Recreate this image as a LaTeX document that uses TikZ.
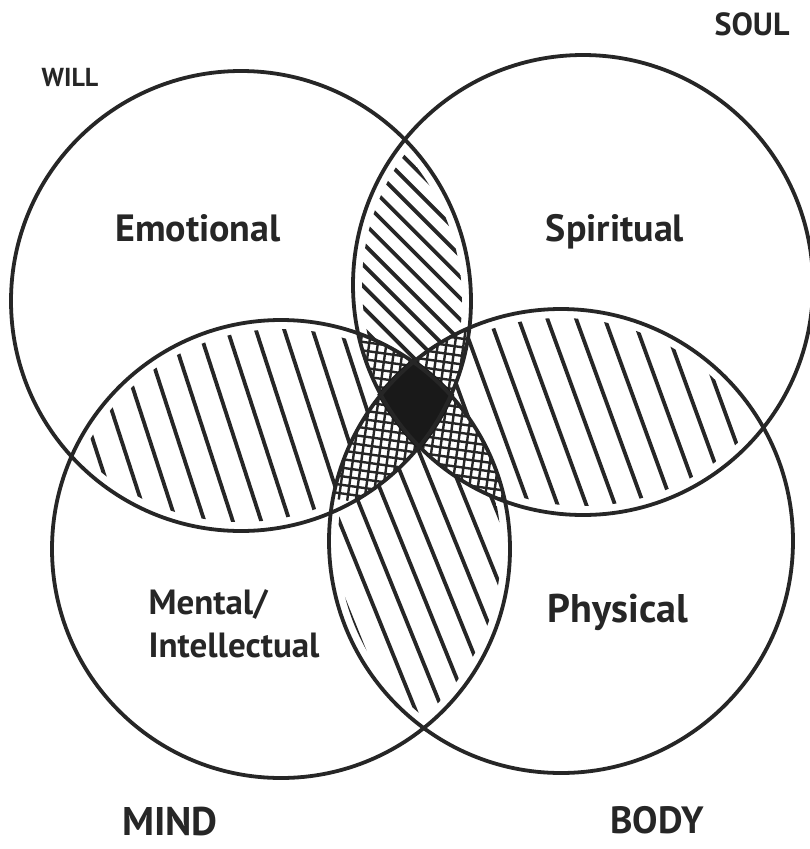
\documentclass[tikz,border=0pt]{standalone}
\usepackage{fontspec}
\setmainfont{PT Sans}
\begin{document}
\begin{tikzpicture}[x=1pt,y=-1pt,
  ring/.style={draw=black!85,line width=3.8pt},
  hatchline/.style={draw=black!85,line width=3.8pt,line cap=round},
  xline/.style={draw=black!85,line width=2.4pt},
  lbl/.style={text=black!85,inner sep=0pt}]
\useasboundingbox[fill=white] (0,0) rectangle (810,849);
% circle centres and radii
\def\Ax{241}\def\Ay{301}\def\Ar{230}
\def\Bx{583}\def\By{285}\def\Br{230}
\def\Cx{281}\def\Cy{549}\def\Cr{229}
\def\Dx{561}\def\Dy{541}\def\Dr{232}
% hatch macro: shift x, shift y, rotation, spacing
\newcommand\myhatch[4]{%
  \begin{scope}[shift={(#1,#2)},rotate=#3]
    \foreach \i in {-20,...,20}{\draw[hatchline] (\i*#4,-260) -- (\i*#4,260);}
  \end{scope}}
\newcommand\mycross[2]{%
  \begin{scope}[shift={(#1,#2)}]
    \foreach \i in {-11,...,11}{
      \draw[xline,rotate=-8] (-100,\i*8.5) -- (100,\i*8.5);
      \draw[xline,rotate=-8] (\i*8.5,-100) -- (\i*8.5,100);}
  \end{scope}}
% left lens (A and C)
\begin{scope}
  \clip (\Ax,\Ay) circle[radius=\Ar-9];
  \clip (\Cx,\Cy) circle[radius=\Cr-9];
  \myhatch{230}{425}{18}{27}
\end{scope}
% top lens (A and B)
\begin{scope}
  \clip (\Ax,\Ay) circle[radius=\Ar-9];
  \clip (\Bx,\By) circle[radius=\Br-9];
  \myhatch{412}{250}{45}{15}
\end{scope}
% right lens (B and D)
\begin{scope}
  \clip (\Bx,\By) circle[radius=\Br-9];
  \clip (\Dx,\Dy) circle[radius=\Dr-9];
  \myhatch{610}{412}{20}{27}
\end{scope}
% bottom lens (C and D)
\begin{scope}
  \clip (\Cx,\Cy) circle[radius=\Cr-9];
  \clip (\Dx,\Dy) circle[radius=\Dr-9];
  \myhatch{425}{600}{22}{25}
\end{scope}
% triple regions cross-hatched
\begin{scope}
  \clip (\Ax,\Ay) circle[radius=\Ar];
  \clip (\Bx,\By) circle[radius=\Br];
  \clip (\Cx,\Cy) circle[radius=\Cr];
  \fill[white] (300,300) rectangle (520,520);
  \mycross{420}{410}
\end{scope}
\begin{scope}
  \clip (\Ax,\Ay) circle[radius=\Ar];
  \clip (\Bx,\By) circle[radius=\Br];
  \clip (\Dx,\Dy) circle[radius=\Dr];
  \fill[white] (300,300) rectangle (520,520);
  \mycross{420}{410}
\end{scope}
\begin{scope}
  \clip (\Ax,\Ay) circle[radius=\Ar];
  \clip (\Cx,\Cy) circle[radius=\Cr];
  \clip (\Dx,\Dy) circle[radius=\Dr];
  \fill[white] (300,300) rectangle (520,520);
  \mycross{420}{410}
\end{scope}
\begin{scope}
  \clip (\Bx,\By) circle[radius=\Br];
  \clip (\Cx,\Cy) circle[radius=\Cr];
  \clip (\Dx,\Dy) circle[radius=\Dr];
  \fill[white] (300,300) rectangle (520,520);
  \mycross{420}{410}
\end{scope}
% four-way centre
\begin{scope}
  \clip (\Ax,\Ay) circle[radius=\Ar+3];
  \clip (\Bx,\By) circle[radius=\Br+3];
  \clip (\Cx,\Cy) circle[radius=\Cr+3];
  \clip (\Dx,\Dy) circle[radius=\Dr+3];
  \fill[black!90] (300,300) rectangle (520,520);
\end{scope}
% circles
\node[ring,circle,minimum size=2*\Ar pt,inner sep=0pt] (emo) at (\Ax,\Ay) {};
\node[ring,circle,minimum size=2*\Br pt,inner sep=0pt] (spi) at (\Bx,\By) {};
\node[ring,circle,minimum size=2*\Cr pt,inner sep=0pt] (men) at (\Cx,\Cy) {};
\node[ring,circle,minimum size=2*\Dr pt,inner sep=0pt] (phy) at (\Dx,\Dy) {};
% labels
\node[lbl,font=\bfseries\fontsize{38}{40}\selectfont] (temo) at (198,228) {Emotional};
\node[lbl,font=\bfseries\fontsize{38}{40}\selectfont] (tspi) at (615,232) {Spiritual};
\node[lbl,font=\bfseries\fontsize{35}{43}\selectfont,align=left] (tmen) at (234,624) {Mental/\\Intellectual};
\node[lbl,font=\bfseries\fontsize{40}{42}\selectfont] (tphy) at (618,612) {Physical};
\node[lbl,font=\bfseries\fontsize{26}{28}\selectfont] (will) at (70,77) {WILL};
\node[lbl,font=\bfseries\fontsize{32}{34}\selectfont] (soul) at (752,24) {SOUL};
\node[lbl,font=\bfseries\fontsize{40}{42}\selectfont] (mind) at (170,822) {MIND};
\node[lbl,font=\bfseries\fontsize{38}{40}\selectfont] (body) at (657,820) {BODY};
\end{tikzpicture}
\end{document}
